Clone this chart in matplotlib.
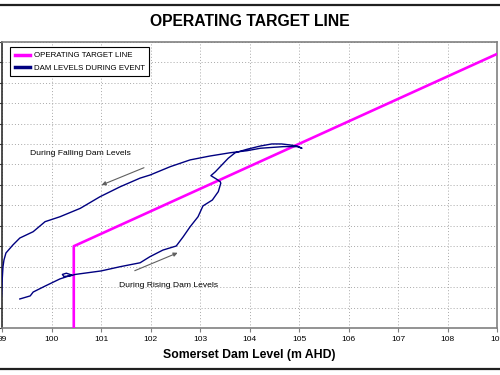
import matplotlib
matplotlib.use("Agg")
import matplotlib.pyplot as plt
from matplotlib.lines import Line2D

plt.rcParams['font.family'] = ['Liberation Sans', 'DejaVu Sans']

# operating target line (Somerset level, Wivenhoe level)
target_x = [100.45, 100.45, 109.0]
target_y = [66.0, 70.0, 79.4]

# dam levels during event (rising, loop at peak, then falling)
event_x = [99.36, 99.57, 99.63, 99.87, 100.17, 100.41, 100.30, 100.22, 100.25, 100.38,
           100.48, 101.00, 101.39, 101.79, 101.99, 102.25, 102.52, 102.66, 102.80, 102.96,
           103.06, 103.25, 103.37, 103.42, 103.41, 103.34, 103.22, 103.31, 103.44, 103.57,
           103.71, 103.95, 104.22, 104.45, 104.65, 104.82, 104.96, 105.06, 104.96, 104.69,
           104.22, 103.95, 103.61, 103.20, 102.80, 102.40, 101.99, 101.79, 101.39, 100.98,
           100.58, 100.17, 99.87, 99.63, 99.36, 99.22, 99.08, 99.04, 99.02, 99.00, 98.99]
event_y = [67.42, 67.57, 67.76, 68.05, 68.40, 68.59, 68.68, 68.62, 68.52, 68.55,
           68.62, 68.79, 69.00, 69.19, 69.49, 69.81, 70.01, 70.46, 70.95, 71.44,
           71.97, 72.26, 72.67, 73.08, 73.15, 73.27, 73.45, 73.64, 73.97, 74.30,
           74.57, 74.74, 74.90, 75.00, 75.00, 74.95, 74.90, 74.79, 74.87, 74.87,
           74.79, 74.67, 74.57, 74.41, 74.22, 73.89, 73.48, 73.33, 72.91, 72.42,
           71.85, 71.44, 71.20, 70.71, 70.40, 70.06, 69.67, 69.33, 69.00, 68.20, 67.57]

x_ticks = [99, 100, 101, 102, 103, 104, 105, 106, 107, 108, 109]
y_ticks = list(range(66, 81))

fig = plt.figure(figsize=(5, 3.75), dpi=100)
ax = fig.add_axes([0.004, 0.1253, 0.99, 0.7635])

ax.plot(target_x, target_y, color='#ff00ff', lw=1.9, label='OPERATING TARGET LINE', zorder=3)
ax.plot(event_x, event_y, color='#000080', lw=1.0, label='DAM LEVELS DURING EVENT', zorder=4)

ax.set_xlim(99, 109)
ax.set_ylim(66, 80)
ax.set_xticks(x_ticks)
ax.set_yticks(y_ticks)
ax.set_yticklabels([])
ax.tick_params(axis='x', labelsize=6, length=3, color='#808080', pad=3)
ax.tick_params(axis='y', length=2.5, color='#404040')
ax.grid(True, color='#a8a8a8', linestyle=(0, (1.0, 2.2)), lw=0.7)
for side in ['top', 'bottom', 'right']:
    ax.spines[side].set_color('#808080')
    ax.spines[side].set_linewidth(1.2)
ax.spines['left'].set_color('#303030')
ax.spines['left'].set_linewidth(1.2)

ax.set_xlabel('Somerset Dam Level (m AHD)', fontsize=8.8, fontweight='bold', labelpad=4)

ax.annotate('', xy=(100.96, 72.94), xytext=(101.92, 73.89),
            arrowprops=dict(arrowstyle='-|>', color='#606060', lw=0.8,
                            mutation_scale=6))
ax.text(100.59, 74.54, 'During Falling Dam Levels', fontsize=6.1, ha='center', va='center')
ax.annotate('', xy=(102.60, 69.73), xytext=(101.63, 68.75),
            arrowprops=dict(arrowstyle='-|>', color='#606060', lw=0.8,
                            mutation_scale=6))
ax.text(102.37, 68.07, 'During Rising Dam Levels', fontsize=6.1, ha='center', va='center')

leg = ax.legend(loc='upper left', bbox_to_anchor=(0.016, 0.981), borderaxespad=0,
                fontsize=5.7, fancybox=False, edgecolor='black', framealpha=1,
                handlelength=1.9, handletextpad=0.5, borderpad=0.6, labelspacing=0.6)
leg.get_frame().set_linewidth(0.8)
for h in leg.get_lines():
    h.set_linewidth(2.5)

fig.text(0.5, 0.943, 'OPERATING TARGET LINE', fontsize=11.3, fontweight='bold',
         ha='center', va='center')

# outer frame lines
fig.add_artist(Line2D([0, 1], [0.988, 0.988], color='#202020', lw=1.6, transform=fig.transFigure))
fig.add_artist(Line2D([0, 1], [0.016, 0.016], color='#202020', lw=1.6, transform=fig.transFigure))

fig.savefig('out.png', dpi=100)
